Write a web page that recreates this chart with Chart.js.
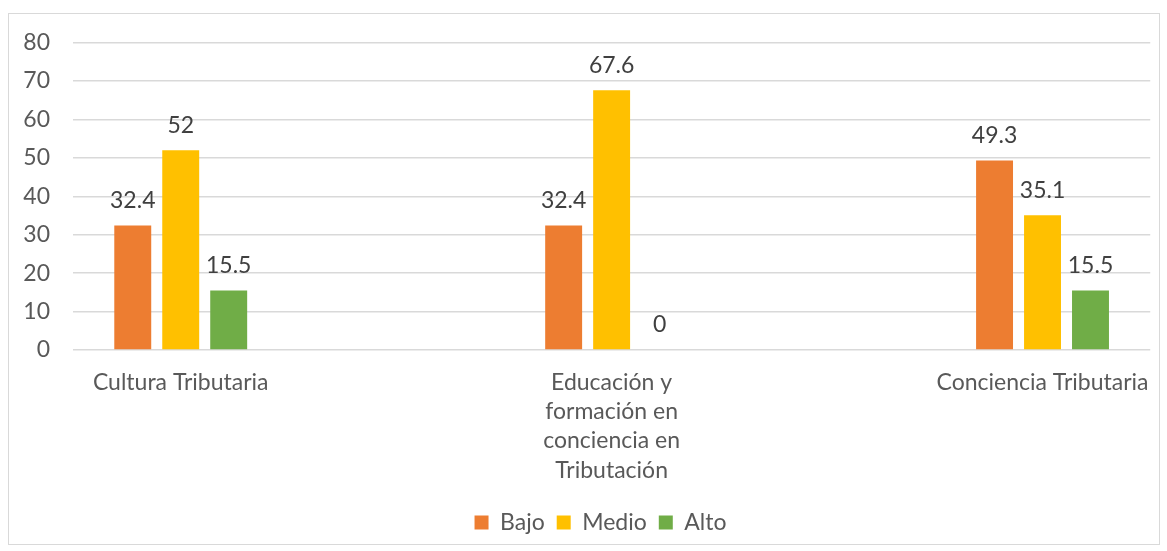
<!DOCTYPE html>
<html>
<head>
<meta charset="utf-8">
<script src="https://cdn.jsdelivr.net/npm/chart.js"></script>
<style>
  body { margin: 0; background: #fff; }
  #box {
    position: absolute; left: 8px; top: 13px;
    width: 1152px; height: 532px;
    border: 1px solid #d9d9d9; box-sizing: border-box;
  }
  canvas { display: block; }
</style>
</head>
<body>
<div id="box"><canvas id="niveles" width="1150" height="530"></canvas></div>
<script>
const categories = [
  "Cultura Tributaria",
  ["Educación y", "formación en", "conciencia en", "Tributación"],
  "Conciencia Tributaria",
];
const seriesNames = ["Bajo", "Medio", "Alto"];
const bajo = [32.4, 32.4, 49.3];
const medio = [52, 67.6, 35.1];
const alto = [15.5, 0, 15.5];
const yTicks = [0, 10, 20, 30, 40, 50, 60, 70, 80];

const FONT = { family: "Lato", size: 23, lineHeight: 1.27 };
const colors = ["#ED7D31", "#FFC000", "#70AD47"];

const toPoints = (vals) => vals.map((v, i) => ({ x: i, y: v }));

// value labels on top of each bar
const barValues = {
  id: "barValues",
  afterDatasetsDraw(chart) {
    const ctx = chart.ctx;
    ctx.save();
    ctx.font = "23px Lato";
    ctx.fillStyle = "#404040";
    ctx.textAlign = "center";
    ctx.textBaseline = "middle";
    chart.data.datasets.forEach((ds, di) => {
      chart.getDatasetMeta(di).data.forEach((bar, i) => {
        ctx.fillText(String(ds.data[i].y), bar.x, bar.y - 25);
      });
    });
    ctx.restore();
  },
};

// the Excel legend sits a little right of the canvas centre
const legendShift = {
  id: "legendShift",
  afterLayout(chart) {
    chart.legend.left += 19;
    chart.legend.right += 19;
  },
};

const datasets = [bajo, medio, alto].map((vals, i) => ({
  label: seriesNames[i],
  data: toPoints(vals),
  backgroundColor: colors[i],
  borderWidth: 0,
  categoryPercentage: 0.334,
  barPercentage: 0.77,
}));

new Chart(document.getElementById("niveles"), {
  type: "bar",
  data: { datasets },
  plugins: [barValues, legendShift],
  options: {
    responsive: false,
    animation: false,
    layout: { padding: { top: 28.6, right: 5, bottom: 0, left: 0 } },
    plugins: {
      tooltip: { enabled: false },
      legend: {
        position: "bottom",
        labels: { boxWidth: 14, boxHeight: 14, padding: 12, color: "#595959", font: FONT },
      },
    },
    scales: {
      x: {
        type: "linear",
        min: -0.25,
        max: 2.25,
        offset: false,
        grid: { display: false, offset: false },
        border: { display: false },
        afterBuildTicks: (axis) => { axis.ticks = categories.map((c, i) => ({ value: i })); },
        afterFit: (axis) => { axis.height = 149; },
        ticks: {
          autoSkip: false,
          maxRotation: 0,
          padding: 10,
          color: "#595959",
          font: FONT,
          callback: (v) => categories[v],
        },
      },
      y: {
        min: 0,
        max: 80,
        afterBuildTicks: (axis) => { axis.ticks = yTicks.map((v) => ({ value: v })); },
        afterFit: (axis) => { axis.width = 64; axis.paddingTop = 0; },
        grid: { color: "#d9d9d9", lineWidth: 1.5, drawTicks: false },
        border: { display: false },
        ticks: { padding: 23, color: "#595959", font: FONT },
      },
    },
  },
});
</script>
</body>
</html>
